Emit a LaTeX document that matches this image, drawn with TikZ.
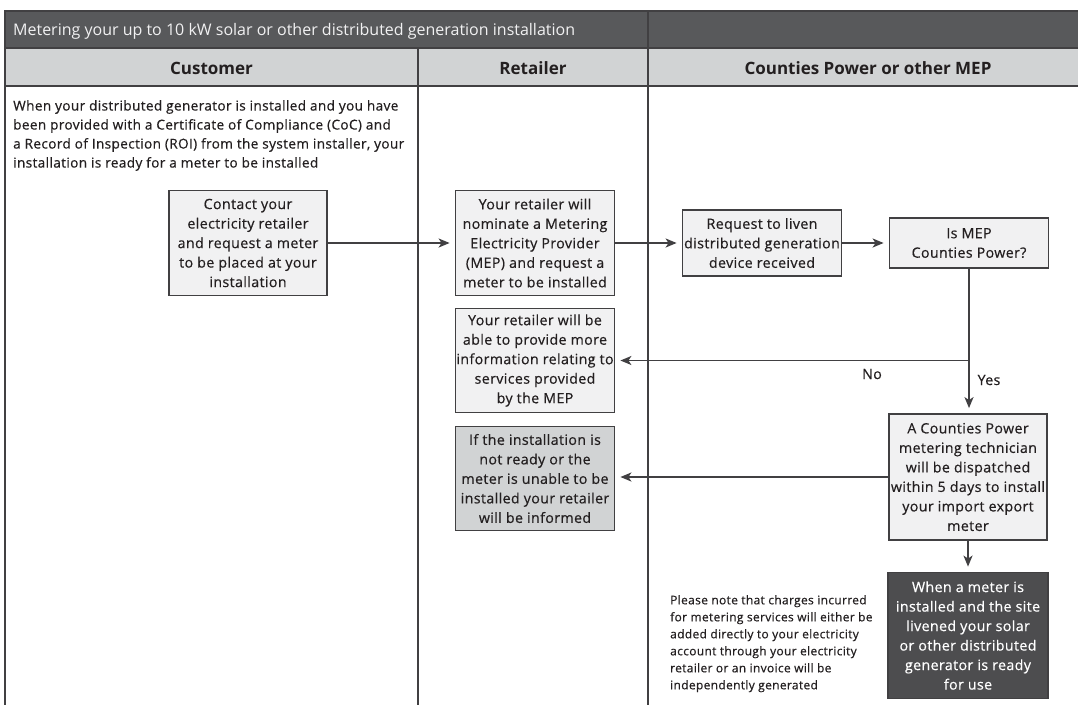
\documentclass[tikz,border=0pt]{standalone}
\usepackage{fontspec}
\setmainfont{Open Sans}[FakeBold=0.5,LetterSpace=2.7]
\newfontfamily\headfont{Open Sans}
\usetikzlibrary{arrows.meta,calc}
\definecolor{titlebg}{HTML}{58595B}
\definecolor{headbg}{HTML}{D1D3D4}
\definecolor{boxfill}{HTML}{F1F1F2}
\definecolor{greyfill}{HTML}{D1D3D4}
\definecolor{darkfill}{HTML}{4D4D4F}
\definecolor{linec}{HTML}{414042}
\definecolor{txt}{HTML}{231F20}
\definecolor{titletxt}{HTML}{F1F1F2}
\tikzset{
  frameline/.style={draw=linec, line width=1.8pt},
  flowbox/.style={draw=linec, line width=1.8pt, fill=boxfill, align=center, inner sep=0pt, text=txt,
    font=\fontsize{14.2}{19.5}\selectfont},
  greybox/.style={flowbox, fill=greyfill},
  darkbox/.style={flowbox, fill=darkfill, text=white},
  arr/.style={draw=linec, line width=1.8pt, -{Stealth[length=11pt,width=9pt,inset=3pt]}, shorten >=5pt},
  lbl/.style={text=txt, font=\fontsize{14.2}{16}\selectfont, inner sep=0pt},
  headlbl/.style={text=txt, font=\headfont\fontsize{17}{20}\selectfont\bfseries, inner sep=0pt},
}
\begin{document}
\begin{tikzpicture}[x=1pt,y=-1pt]
\useasboundingbox (0,0) rectangle (1078,704);
\clip (0,0) rectangle (1078,704);
\fill[white] (0,0) rectangle (1078,704);
% title bar and header
\fill[titlebg] (5,11) rectangle (1095,48);
\fill[headbg] (5,48) rectangle (1095,86);
\draw[frameline] (1095,11) -- (5,11) -- (5,710);
\draw[frameline] (5,48) -- (1095,48);
\draw[frameline] (5,86) -- (1095,86);
\draw[frameline] (418,48) -- (418,710);
\draw[frameline] (648,11) -- (648,710);
\node[anchor=west, text=titletxt, font=\headfont\fontsize{16}{18}\selectfont, inner sep=0pt] (title) at (13,31) {Metering your up to 10 kW solar or other distributed generation installation};
\node[headlbl] (hcust) at (211.5,68) {Customer};
\node[headlbl] (hret) at (533,68) {Retailer};
\node[headlbl] (hmep) at (868,68) {Counties Power or other MEP};
% intro text
\node[anchor=north west, align=left, text=txt, inner sep=0pt, font=\fontsize{13.6}{19}\selectfont] (intro) at (13,100)
 {When your distributed generator is installed and you have\\
  been provided with a Certificate of Compliance (CoC) and\\
  a Record of Inspection (ROI) from the system installer, your\\
  installation is ready for a meter to be installed};
% boxes
\node[flowbox, minimum width=158pt, minimum height=105pt] (contact) at (248,243)
 {Contact your\\electricity retailer\\and request a meter\\to be placed at your\\installation};
\node[flowbox, minimum width=159pt, minimum height=105pt] (ret1) at (535,243)
 {Your retailer will\\nominate a Metering\\Electricity Provider\\(MEP) and request a\\meter to be installed};
\node[flowbox, minimum width=159pt, minimum height=66pt] (req) at (762,243)
 {Request to liven\\distributed generation\\device received};
\node[flowbox, minimum width=159pt, minimum height=50pt] (mep) at (969,243)
 {Is MEP\\Counties Power?};
\node[flowbox, minimum width=159pt, minimum height=104pt] (ret2) at (535,360.5)
 {Your retailer will be\\able to provide more\\information relating to\\services provided\\by the MEP};
\node[greybox, minimum width=159pt, minimum height=104pt] (ret3) at (535,478.5)
 {If the installation is\\not ready or the\\meter is unable to be\\installed your retailer\\will be informed};
\node[flowbox, minimum width=158pt, minimum height=126pt] (tech) at (968,477)
 {A Counties Power\\metering technician\\will be dispatched\\within 5 days to install\\your import export\\meter};
\node[darkbox, minimum width=160pt, minimum height=126pt] (done) at (968,635.5)
 {When a meter is\\installed and the site\\livened your solar\\or other distributed\\generator is ready\\for use};
% note
\node[anchor=north west, align=left, text=txt, inner sep=0pt, font=\fontsize{12}{17}\selectfont] (note) at (670,595)
 {Please note that charges incurred\\
  for metering services will either be\\
  added directly to your electricity\\
  account through your electricity\\
  retailer or an invoice will be\\
  independently generated};
% connectors
\draw[arr] (contact.east) -- (ret1.west);
\draw[arr] (ret1.east) -- (req.west);
\draw[arr] (req.east) -- (mep.west);
\coordinate (split) at (mep.south |- ret2.east);
\draw[arr] (mep.south) -- (mep.south |- tech.north);
\draw[arr] (split) -- (ret2.east);
\draw[arr] (tech.west) -- (tech.west -| ret3.east);
\draw[arr] (tech.south) -- (done.north);
\node[lbl] (no) at (872,374) {No};
\node[lbl] (yes) at (989,380) {Yes};
\end{tikzpicture}
\end{document}
